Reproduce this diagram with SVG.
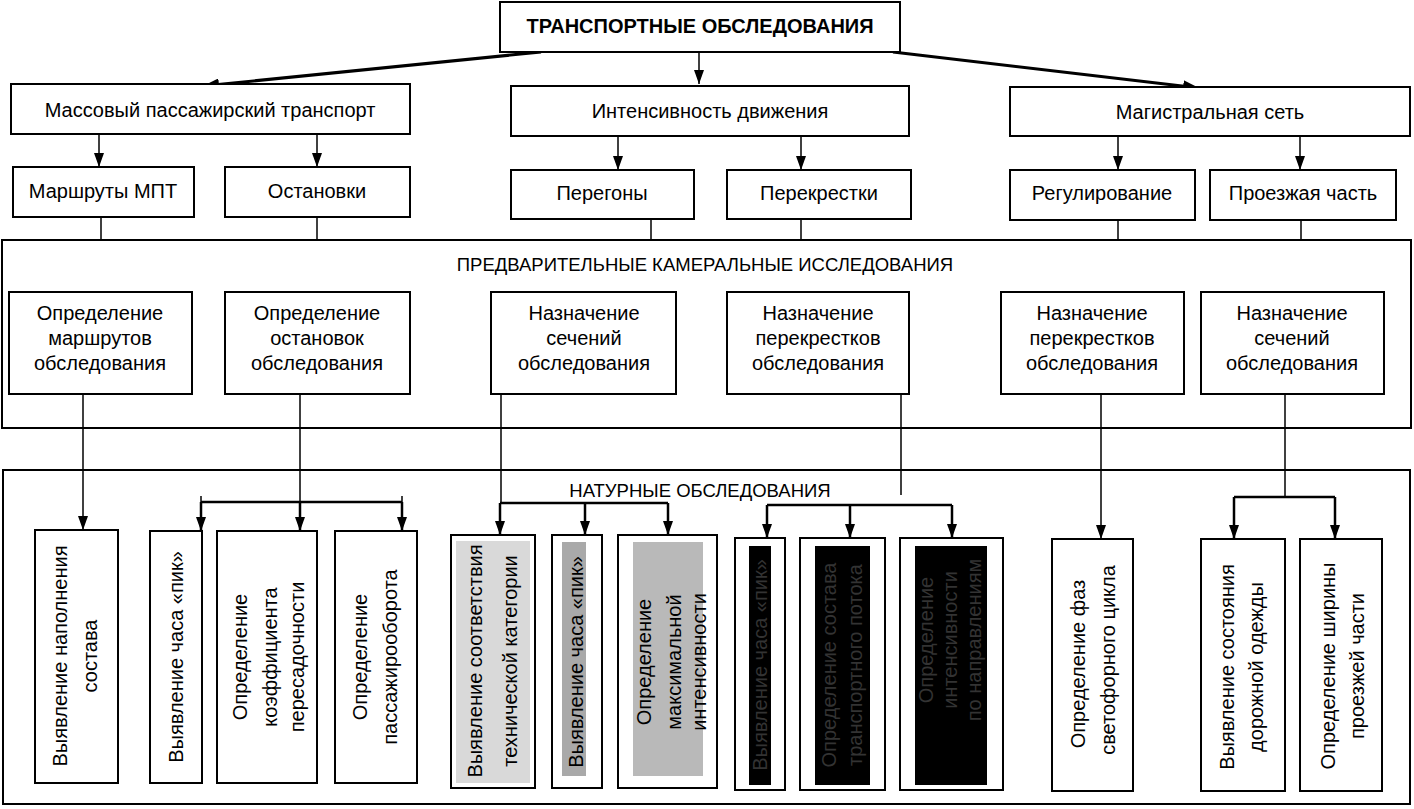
<svg xmlns="http://www.w3.org/2000/svg" width="1414" height="809" viewBox="0 0 1414 809">
<defs>
<style>
.b{fill:#fff;stroke:#000;stroke-width:2}
.f{fill:none;stroke:#000;stroke-width:2}
.t{font-family:"Liberation Sans",Arial,sans-serif;font-size:20px;fill:#000;text-anchor:middle}
.ttl{font-family:"Liberation Sans",Arial,sans-serif;font-size:18.5px;fill:#000;text-anchor:middle}
.c{fill:none;stroke:#000;stroke-width:1.5}
.c2{fill:none;stroke:#000;stroke-width:2.5}
.c3{fill:none;stroke:#000;stroke-width:3}
.dk{fill:#000}
.dt{font-family:"Liberation Sans",Arial,sans-serif;font-size:20px;fill:#333;text-anchor:middle}
</style>
<marker id="ah" viewBox="0 0 14 10" refX="14" refY="5" markerWidth="14" markerHeight="10" markerUnits="userSpaceOnUse" orient="auto"><path d="M0,0 L14,5 L0,10 z" fill="#000"/></marker>
<marker id="ahb" viewBox="0 0 16 12" refX="16" refY="6" markerWidth="16" markerHeight="12" markerUnits="userSpaceOnUse" orient="auto"><path d="M0,0 L16,6 L0,12 z" fill="#000"/></marker>
</defs>
<rect width="1414" height="809" fill="#fff"/>

<!-- containers -->
<g id="kameral">
<rect class="f" x="2" y="240" width="1409" height="188"/>
<text class="ttl" x="705" y="271">ПРЕДВАРИТЕЛЬНЫЕ КАМЕРАЛЬНЫЕ ИССЛЕДОВАНИЯ</text>
</g>
<g id="natur">
<rect class="f" x="3" y="470" width="1407" height="334"/>
<text class="ttl" x="700" y="497">НАТУРНЫЕ ОБСЛЕДОВАНИЯ</text>
</g>

<!-- connectors -->
<g id="connectors">
<line class="c3" x1="541" y1="52" x2="203" y2="86" marker-end="url(#ahb)"/>
<line class="c" x1="699" y1="52" x2="699" y2="84" marker-end="url(#ah)"/>
<line class="c3" x1="893" y1="52" x2="1199" y2="88" marker-end="url(#ahb)"/>

<line class="c" x1="99" y1="134" x2="99" y2="167" marker-end="url(#ah)"/>
<line class="c" x1="317" y1="134" x2="317" y2="167" marker-end="url(#ah)"/>
<line class="c" x1="618" y1="136" x2="618" y2="170" marker-end="url(#ah)"/>
<line class="c" x1="801" y1="136" x2="801" y2="170" marker-end="url(#ah)"/>
<line class="c" x1="1118" y1="136" x2="1118" y2="170" marker-end="url(#ah)"/>
<line class="c" x1="1300" y1="136" x2="1300" y2="170" marker-end="url(#ah)"/>

<line class="c" x1="101" y1="217" x2="101" y2="240"/>
<line class="c" x1="317" y1="217" x2="317" y2="240"/>
<line class="c" x1="651" y1="219" x2="651" y2="240"/>
<line class="c" x1="801" y1="219" x2="801" y2="240"/>
<line class="c" x1="1118" y1="220" x2="1118" y2="240"/>
<line class="c" x1="1301" y1="220" x2="1301" y2="240"/>

<line class="c" x1="83" y1="394" x2="83" y2="530" marker-end="url(#ah)"/>

<line class="c" x1="300" y1="394" x2="300" y2="502"/>
<line class="c2" x1="201" y1="502" x2="402" y2="502"/>
<line class="c" x1="201" y1="496" x2="201" y2="502"/>
<line class="c" x1="402" y1="496" x2="402" y2="502"/>
<line class="c2" x1="201" y1="502" x2="201" y2="531" marker-end="url(#ah)"/>
<line class="c2" x1="300" y1="502" x2="300" y2="531" marker-end="url(#ah)"/>
<line class="c2" x1="402" y1="502" x2="402" y2="531" marker-end="url(#ah)"/>

<line class="c" x1="501" y1="394" x2="501" y2="503"/>
<line class="c2" x1="500" y1="503" x2="668" y2="503"/>
<line class="c2" x1="500" y1="503" x2="500" y2="535" marker-end="url(#ah)"/>
<line class="c2" x1="585" y1="503" x2="585" y2="535" marker-end="url(#ah)"/>
<line class="c2" x1="668" y1="503" x2="668" y2="535" marker-end="url(#ah)"/>

<line class="c" x1="901" y1="394" x2="901" y2="495"/>
<line class="c2" x1="767" y1="505" x2="952" y2="505"/>
<line class="c2" x1="767" y1="505" x2="767" y2="538" marker-end="url(#ah)"/>
<line class="c2" x1="850" y1="505" x2="850" y2="538" marker-end="url(#ah)"/>
<line class="c2" x1="952" y1="505" x2="952" y2="538" marker-end="url(#ah)"/>

<line class="c" x1="1101" y1="394" x2="1101" y2="539" marker-end="url(#ah)"/>

<line class="c" x1="1285" y1="394" x2="1285" y2="496"/>
<line class="c2" x1="1234" y1="497" x2="1335" y2="497"/>
<line class="c2" x1="1234" y1="497" x2="1234" y2="539" marker-end="url(#ah)"/>
<line class="c2" x1="1335" y1="497" x2="1335" y2="539" marker-end="url(#ah)"/>
</g>

<!-- level 1 -->
<g id="root">
<rect class="b" x="500" y="2" width="400" height="50"/>
<text class="t" x="700" y="33" style="font-weight:bold;font-size:20px">ТРАНСПОРТНЫЕ ОБСЛЕДОВАНИЯ</text>
</g>

<!-- level 2 -->
<g id="mpt"><rect class="b" x="11" y="84" width="399" height="50"/><text class="t" x="210" y="117">Массовый пассажирский транспорт</text></g>
<g id="intens"><rect class="b" x="511" y="86" width="398" height="50"/><text class="t" x="710" y="118">Интенсивность движения</text></g>
<g id="magistr"><rect class="b" x="1010" y="87" width="400" height="49"/><text class="t" x="1210" y="119">Магистральная сеть</text></g>

<!-- level 3 -->
<g id="marshruty"><rect class="b" x="13" y="167" width="181" height="50"/><text class="t" x="103" y="198">Маршруты МПТ</text></g>
<g id="ostanovki"><rect class="b" x="225" y="167" width="185" height="50"/><text class="t" x="317" y="198">Остановки</text></g>
<g id="peregony"><rect class="b" x="511" y="170" width="183" height="49"/><text class="t" x="602" y="200">Перегоны</text></g>
<g id="perekrestki"><rect class="b" x="727" y="170" width="184" height="49"/><text class="t" x="819" y="200">Перекрестки</text></g>
<g id="regul"><rect class="b" x="1010" y="170" width="185" height="50"/><text class="t" x="1102" y="200">Регулирование</text></g>
<g id="proezh"><rect class="b" x="1210" y="170" width="186" height="50"/><text class="t" x="1303" y="200">Проезжая часть</text></g>

<!-- kameral inner -->
<g id="k1"><rect class="b" x="9" y="292" width="183" height="102"/><text class="t" x="100" y="320">Определение<tspan x="100" dy="25">маршрутов</tspan><tspan x="100" dy="25">обследования</tspan></text></g>
<g id="k2"><rect class="b" x="225" y="292" width="185" height="102"/><text class="t" x="317" y="320">Определение<tspan x="317" dy="25">остановок</tspan><tspan x="317" dy="25">обследования</tspan></text></g>
<g id="k3"><rect class="b" x="491" y="292" width="185" height="102"/><text class="t" x="584" y="320">Назначение<tspan x="584" dy="25">сечений</tspan><tspan x="584" dy="25">обследования</tspan></text></g>
<g id="k4"><rect class="b" x="727" y="292" width="182" height="102"/><text class="t" x="818" y="320">Назначение<tspan x="818" dy="25">перекрестков</tspan><tspan x="818" dy="25">обследования</tspan></text></g>
<g id="k5"><rect class="b" x="1001" y="292" width="183" height="102"/><text class="t" x="1092" y="320">Назначение<tspan x="1092" dy="25">перекрестков</tspan><tspan x="1092" dy="25">обследования</tspan></text></g>
<g id="k6"><rect class="b" x="1201" y="292" width="183" height="102"/><text class="t" x="1292" y="320">Назначение<tspan x="1292" dy="25">сечений</tspan><tspan x="1292" dy="25">обследования</tspan></text></g>

<!-- natural boxes -->
<g id="n1"><rect class="b" x="35" y="530" width="83" height="253"/>
<text class="t" transform="translate(67,656) rotate(-90)">Выявление наполнения</text>
<text class="t" transform="translate(97,656) rotate(-90)">состава</text></g>
<g id="n2"><rect class="b" x="150" y="531" width="52" height="252"/>
<text class="t" transform="translate(183,657) rotate(-90)">Выявление часа «пик»</text></g>
<g id="n3"><rect class="b" x="217" y="531" width="100" height="252"/>
<text class="t" transform="translate(247,657) rotate(-90)">Определение</text>
<text class="t" transform="translate(277,657) rotate(-90)">коэффициента</text>
<text class="t" transform="translate(304,657) rotate(-90)">пересадочности</text></g>
<g id="n4"><rect class="b" x="335" y="531" width="82" height="252"/>
<text class="t" transform="translate(367,657) rotate(-90)">Определение</text>
<text class="t" transform="translate(397,657) rotate(-90)">пассажирооборота</text></g>

<g id="n5"><rect class="b" x="451" y="535" width="84" height="253"/>
<rect x="456" y="541" width="74" height="242" fill="#d9d9d9"/>
<text class="t" transform="translate(482,661) rotate(-90)">Выявление соответствия</text>
<text class="t" transform="translate(517,661) rotate(-90)">технической категории</text></g>
<g id="n6"><rect class="b" x="552" y="535" width="50" height="253"/>
<rect x="562" y="542" width="24" height="234" fill="#a9a9a9"/>
<text class="t" transform="translate(583,662) rotate(-90)">Выявление часа «пик»</text></g>
<g id="n7"><rect class="b" x="618" y="535" width="99" height="253"/>
<rect x="633" y="542" width="70" height="234" fill="#b9b9b9"/>
<text class="t" transform="translate(651,662) rotate(-90)">Определение</text>
<text class="t" transform="translate(681,662) rotate(-90)">максимальной</text>
<text class="t" transform="translate(706,662) rotate(-90)">интенсивности</text></g>

<g id="n8"><rect class="b" x="735" y="538" width="50" height="252"/>
<rect class="dk" x="749" y="546" width="22" height="239"/>
<text class="dt" transform="translate(767,665) rotate(-90)">Выявление часа «пик»</text></g>
<g id="n9"><rect class="b" x="800" y="538" width="85" height="252"/>
<rect class="dk" x="815" y="546" width="55" height="239"/>
<text class="dt" transform="translate(836,665) rotate(-90)">Определение состава</text>
<text class="dt" transform="translate(862,665) rotate(-90)">транспортного потока</text></g>
<g id="n10"><rect class="b" x="900" y="538" width="103" height="252"/>
<rect class="dk" x="915" y="546" width="72" height="239"/>
<text class="dt" transform="translate(933,640) rotate(-90)">Определение</text>
<text class="dt" transform="translate(957,640) rotate(-90)">интенсивности</text>
<text class="dt" transform="translate(981,640) rotate(-90)">по направлениям</text></g>

<g id="n11"><rect class="b" x="1052" y="539" width="81" height="252"/>
<text class="t" transform="translate(1085,664) rotate(-90)">Определение фаз</text>
<text class="t" transform="translate(1115,660) rotate(-90)">светофорного цикла</text></g>
<g id="n12"><rect class="b" x="1201" y="539" width="84" height="252"/>
<text class="t" transform="translate(1234,667) rotate(-90)">Выявление состояния</text>
<text class="t" transform="translate(1263,667) rotate(-90)">дорожной одежды</text></g>
<g id="n13"><rect class="b" x="1300" y="539" width="82" height="252"/>
<text class="t" transform="translate(1335,666) rotate(-90)">Определение ширины</text>
<text class="t" transform="translate(1364,666) rotate(-90)">проезжей части</text></g>
</svg>
